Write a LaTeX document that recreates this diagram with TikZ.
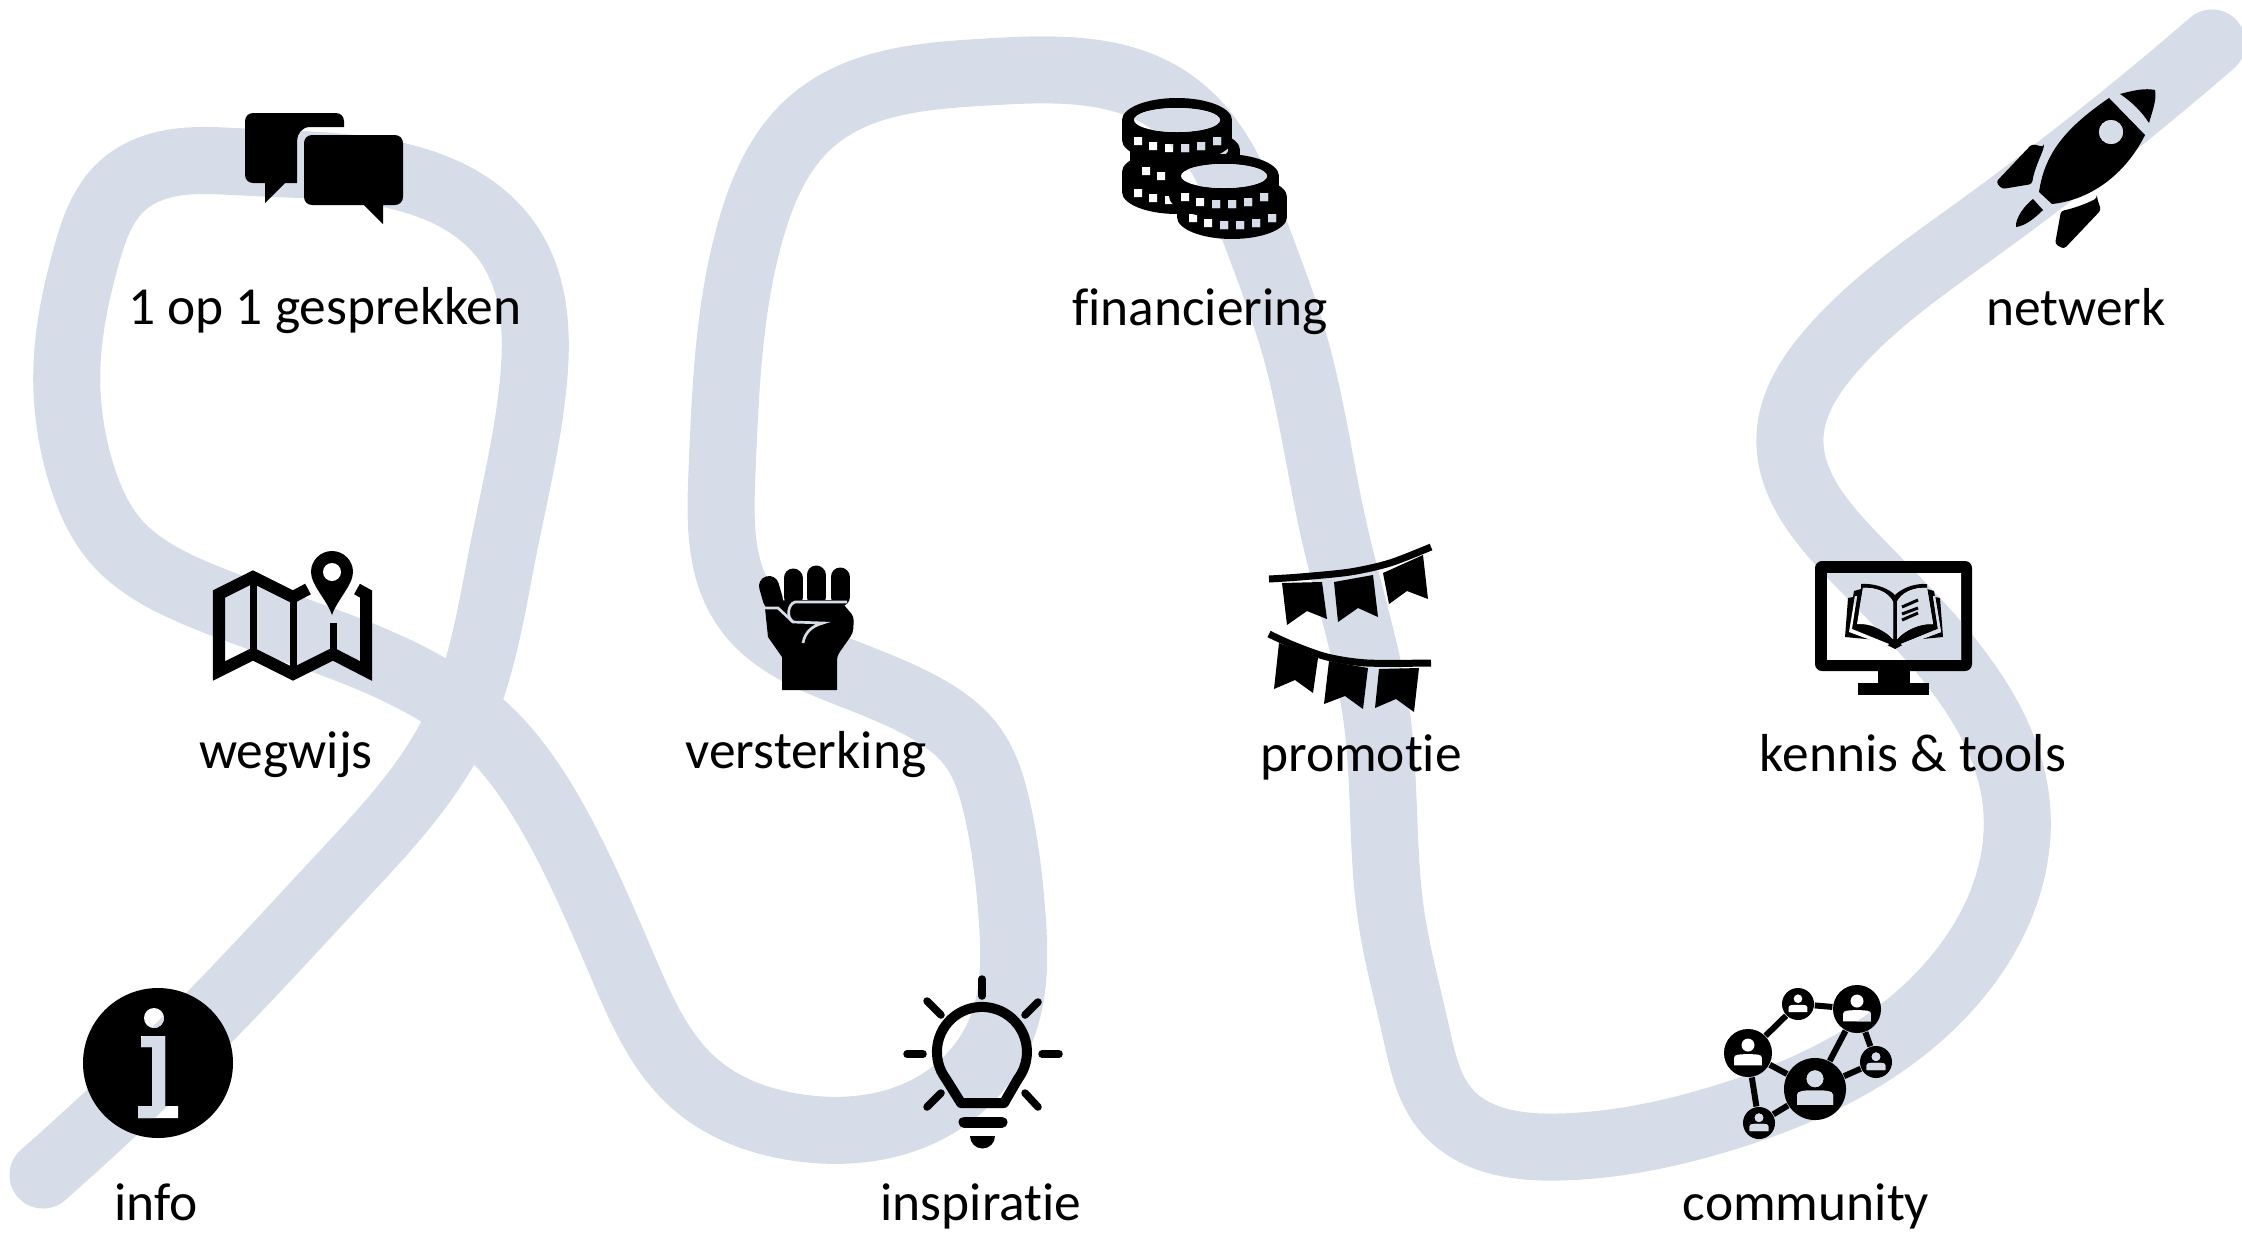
\documentclass[tikz,border=0pt]{standalone}
\usepackage{fontspec}
\setmainfont{Carlito}[Ligatures=NoCommon]
\usetikzlibrary{hobby}
\definecolor{ribboncol}{HTML}{D6DCE8}
\tikzset{
	ribbon/.style={line width=0.67cm, color=ribboncol, line cap=round, use Hobby shortcut},
	tag/.style={anchor=base, inner sep=0pt, font=\fontsize{15.2}{18}\selectfont},
	peer/.style={circle, fill=black, inner sep=0pt},
	link/.style={line width=0.06cm, black},
	ray/.style={line width=0.075cm, black, line cap=round},
	mapline/.style={line width=0.07cm, black}
}
\newcommand{\ribbonpath}{\draw [ribbon] (43,-1175) .. (228,-998) .. (343,-875) .. (455,-729) .. (503,-551) .. (533,-386) .. (508,-243) .. (358,-169) .. (243,-162) .. (150,-169) .. (122,-186) .. (86,-257) .. (67,-365) .. (83,-479) .. (114,-539) .. (200,-595) .. (400,-672) .. (483,-726) .. (555,-822) .. (625,-972) .. (694,-1083) .. (801,-1128) .. (930,-1108) .. (1001,-1030) .. (1012,-915) .. (997,-808) .. (972,-746) .. (922,-706) .. (849,-674) .. (746,-608) .. (722,-472) .. (751,-229) .. (811,-122) .. (987,-72) .. (1173,-103) .. (1260,-245) .. (1294,-343) .. (1334,-531) .. (1377,-719) .. (1391,-915) .. (1416,-1032) .. (1447,-1111) .. (1559,-1147) .. (1723,-1118) .. (1928,-1008) .. (2016,-801) .. (1966,-682) .. (1852,-555) .. (1790,-436) .. (1830,-352) .. (1976,-230) .. (2212,-43);}
% holes in the icons: whatever lies behind them comes back
\newcommand{\showthrough}[1]{\begin{scope}\clip #1; \fill [white] (0,0) rectangle (2242,-1233); \ribbonpath\end{scope}}
\newcommand{\coin}[2]{%
	\fill [black] (#1,-#2) ellipse (55 and 22);
	\fill [black] (#1-55,-#2) rectangle (#1+55,-#2-20);
	\fill [black] (#1,-#2-20) ellipse (55 and 22);
	\showthrough{(#1,-#2) ellipse (43 and 12) \foreach \dx/\dy in {-39/17,-24/22,-8/24,8/24,24/22,40/17} {(#1+\dx-4,-#2-\dy) rectangle ++(8,-8)}}
}
\newcommand{\peernode}[4]{\node [peer, minimum size=0.02cm*#4] (#1) at (#2,-#3) {};}
\newcommand{\personhole}[3]{\showthrough{[shift={(#1,-#2)},scale=#3] (0,0.33) circle (0.27) (-0.58,-0.51) -- (-0.58,-0.2) .. controls (-0.58,-0.05) and (-0.35,-0.05) .. (0,-0.05) .. controls (0.35,-0.05) and (0.58,-0.05) .. (0.58,-0.2) -- (0.58,-0.51) -- cycle}}
\begin{document}
\begin{tikzpicture}[x=0.01cm,y=0.01cm]
	\useasboundingbox (0,0) rectangle (2242,-1233);
	\ribbonpath
	% info
	\fill [black] (158,-1063) circle (75);
	\showthrough{(154,-1018) circle (10) (141,-1036) -- (165,-1036) -- (165,-1106) -- (178,-1106) -- (178,-1118) -- (138,-1118) -- (138,-1106) -- (152,-1106) -- (152,-1047) -- (141,-1047) -- cycle}
	\node [tag] (info) at (156,-1220) {info};
	% inspiratie
	\draw [line width=0.1cm, black, line join=round] (961,-1103) -- (946,-1079) arc (217:-37:45) -- (1004,-1103) -- cycle;
	\draw [ray] (982,-979) -- (982,-996);
	\draw [ray] (907,-1054) -- (923,-1054);
	\draw [ray] (1042,-1054) -- (1059,-1054);
	\draw [ray] (927,-1001) -- (941,-1015);
	\draw [ray] (1038,-1002) -- (1025,-1015);
	\draw [ray] (927,-1107) -- (941,-1093);
	\draw [ray] (1038,-1107) -- (1025,-1093);
	\draw [line width=0.11cm, black, line cap=round] (964,-1122) -- (1002,-1122);
	\fill [black] (970,-1136) arc (180:360:12.5) -- cycle;
	\node [tag] (inspiratie) at (981,-1220) {inspiratie};
	% community
	\peernode{peerA}{1798}{1004}{16}
	\peernode{peerB}{1857}{1009}{24}
	\peernode{peerC}{1748}{1053}{24}
	\peernode{peerD}{1876}{1062}{16}
	\peernode{peerE}{1815}{1089}{31}
	\peernode{peerF}{1759}{1123}{16}
	\draw [link] (peerA) -- (peerB);
	\draw [link] (peerA) -- (peerC);
	\draw [link] (peerB) -- (peerE);
	\draw [link] (peerB) -- (peerD);
	\draw [link] (peerD) -- (peerE);
	\draw [link] (peerC) -- (peerE);
	\draw [link] (peerC) -- (peerF);
	\draw [link] (peerF) -- (peerE);
	\personhole{1798}{1004}{16}
	\personhole{1857}{1009}{24}
	\personhole{1748}{1053}{24}
	\personhole{1876}{1062}{16}
	\personhole{1815}{1089}{31}
	\personhole{1759}{1123}{16}
	\node [tag] (community) at (1806,-1220) {community};
	% kennis & tools
	\fill [black, rounded corners=0.07cm] (1815,-561) rectangle (1972,-671);
	\fill [black] (1878,-671) rectangle (1910,-683);
	\fill [black] (1858,-683) rectangle (1929,-695);
	\showthrough{(1827,-573) rectangle (1961,-659)}
	\fill [black] (1895,-649) -- (1877,-640) -- (1845,-637) -- (1848,-598) -- (1853,-597) -- (1854,-591) -- (1861,-589) -- (1861,-584) .. controls (1878,-583) and (1890,-590) .. (1895,-595) .. controls (1900,-590) and (1912,-583) .. (1927,-584) -- (1927,-589) -- (1934,-591) -- (1935,-597) -- (1940,-598) -- (1943,-637) -- (1912,-640) -- cycle;
	\showthrough{(1863,-588) .. controls (1880,-587) and (1890,-595) .. (1893,-602) -- (1893,-639) .. controls (1885,-630) and (1870,-623) .. (1857,-624) -- cycle (1927,-588) .. controls (1910,-587) and (1900,-595) .. (1897,-602) -- (1897,-639) .. controls (1905,-630) and (1920,-623) .. (1933,-624) -- cycle (1855,-596) -- (1857,-596) -- (1852,-629) -- (1889,-644) -- (1887,-646) -- (1849,-632) -- cycle (1935,-596) -- (1933,-596) -- (1938,-629) -- (1901,-644) -- (1903,-646) -- (1941,-632) -- cycle}
	\draw [line width=0.03cm, black] (1902,-607) -- (1918,-600);
	\draw [line width=0.03cm, black] (1902,-614) -- (1918,-608);
	\draw [line width=0.03cm, black] (1902,-620) -- (1918,-613);
	\node [tag] (kennis) at (1913,-771) {kennis \& tools};
	% promotie
	\draw [mapline] plot [smooth] coordinates {(1269,-579) (1300,-577) (1350,-572) (1390,-563) (1431,-547)};
	\fill [black] (1282,-583) -- (1322,-582) -- (1327,-619) -- (1307,-611) -- (1287,-625) -- cycle;
	\fill [black] (1334,-582) -- (1373,-575) -- (1378,-617) -- (1358,-608) -- (1338,-622) -- cycle;
	\fill [black] (1383,-573) -- (1423,-555) -- (1428,-599) -- (1407,-591) -- (1389,-604) -- cycle;
	\draw [mapline] plot [smooth] coordinates {(1269,-634) (1293,-645) (1327,-657) (1367,-663) (1431,-663)};
	\fill [black] (1279,-643) -- (1318,-658) -- (1313,-693) -- (1295,-680) -- (1274,-689) -- cycle;
	\fill [black] (1329,-661) -- (1368,-668) -- (1363,-709) -- (1345,-696) -- (1324,-704) -- cycle;
	\fill [black] (1379,-669) -- (1419,-668) -- (1414,-712) -- (1396,-699) -- (1375,-708) -- cycle;
	\node [tag] (promotie) at (1361,-771) {promotie};
	% versterking
	\draw [line width=0.2cm, black, line cap=round] (769,-586) -- (773,-600);
	\draw [line width=0.19cm, black, line cap=round] (793,-578) -- (793,-597);
	\draw [line width=0.19cm, black, line cap=round] (816,-575) -- (816,-597);
	\draw [line width=0.19cm, black, line cap=round] (840,-577) -- (840,-597);
	\fill [black, rounded corners=0.04cm] (765,-608) -- (783,-600) -- (840,-600) -- (854,-617) -- (853,-633) -- (837,-656) [sharp corners] -- (837,-690) -- (782,-690) -- (782,-657) -- (768,-637) -- cycle;
	\draw [line width=0.027cm, ribboncol] (847,-602) -- (795,-602) .. controls (788,-604) and (786,-617) .. (793,-622) -- (823,-623) .. controls (812,-626) and (805,-632) .. (803,-643);
	\draw [line width=0.027cm, ribboncol] (763,-608) -- (778,-608) -- (793,-622);
	\node [tag] (versterking) at (806,-768) {versterking};
	% wegwijs
	\draw [line width=0.12cm, black] (308,-589) -- (293,-597) -- (253,-577) -- (219,-594) -- (219,-671) -- (253,-654) -- (293,-674) -- (333,-654) -- (366,-671) -- (366,-594) -- (357,-589);
	\draw [mapline] (253,-577) -- (253,-654);
	\draw [mapline] (293,-597) -- (293,-674);
	\draw [mapline] (333,-623) -- (333,-654);
	\fill [black] (332,-615) .. controls (327,-600) and (311,-585) .. (311,-572) arc (180:0:21) .. controls (353,-585) and (337,-600) .. (332,-615) -- cycle;
	\showthrough{(332,-572) circle (9)}
	\node [tag] (wegwijs) at (286,-768) {wegwijs};
	% 1 op 1 gesprekken
	\fill [black, rounded corners=0.08cm] (245,-113) -- (344,-113) [sharp corners] -- (344,-127) -- (310,-127) .. controls (302,-127) and (297,-134) .. (297,-141) -- (297,-183) -- (285,-183) -- (265,-203) -- (265,-183) [rounded corners=0.08cm] -- (245,-183) -- cycle;
	\fill [black, rounded corners=0.08cm] (304,-135) -- (403,-135) -- (403,-205) [sharp corners] -- (383,-205) -- (383,-224) -- (364,-205) [rounded corners=0.08cm] -- (304,-205) -- cycle;
	\node [tag] (gesprekken) at (325,-324) {1 op 1 gesprekken};
	% financiering
	\coin{1177}{172}
	\coin{1185}{150}
	\coin{1177}{120}
	\coin{1232}{197}
	\coin{1224}{176}
	\node [tag] (financiering) at (1200,-325) {financiering};
	% netwerk
	\fill [black] (2109,-98) .. controls (2070,-125) and (2045,-150) .. (2039,-192) -- (2052,-204) .. controls (2090,-200) and (2125,-175) .. (2145,-135) -- cycle;
	\showthrough{(2111,-132) circle (12)}
	\fill [black, line join=round] (2120,-94) .. controls (2135,-90) and (2145,-88) .. (2155,-90) .. controls (2157,-100) and (2152,-112) .. (2149,-123) .. controls (2142,-112) and (2132,-102) .. (2120,-94) -- cycle;
	\fill [black, rounded corners=0.03cm] (2044,-147) -- (2032,-144) -- (1996,-182) -- (2002,-189) -- (2032,-184) .. controls (2034,-170) and (2040,-158) .. (2044,-147) -- cycle;
	\fill [black, rounded corners=0.03cm] (2097,-198) -- (2101,-210) -- (2064,-249) -- (2055,-244) -- (2061,-211) .. controls (2075,-208) and (2088,-203) .. (2097,-198) -- cycle;
	\fill [black] (2033,-199) -- (2043,-210) .. controls (2035,-218) and (2025,-226) .. (2016,-227) .. controls (2015,-218) and (2025,-205) .. (2033,-199) -- cycle;
	\node [tag] (netwerk) at (2076,-325) {netwerk};
\end{tikzpicture}
\end{document}
